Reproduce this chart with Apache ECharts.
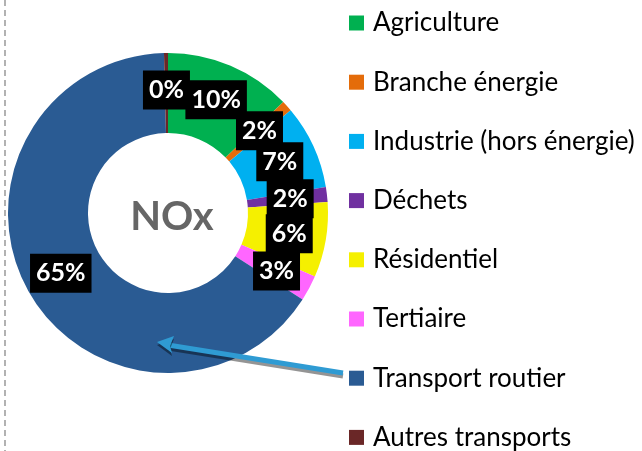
<!DOCTYPE html>
<html>
<head>
<meta charset="utf-8">
<script src="https://cdn.jsdelivr.net/npm/echarts@6/dist/echarts.min.js"></script>
<style>
  html, body { margin: 0; padding: 0; background: #fff; }
  #chart { width: 642px; height: 451px; }
</style>
</head>
<body>
<div id="chart"></div>
<script>
// secteurs (ordre de la légende)
var sectors = ['Agriculture', 'Branche énergie', 'Industrie (hors énergie)', 'Déchets',
  'Résidentiel', 'Tertiaire', 'Transport routier', 'Autres transports'];
// parts mesurées sur les angles du graphique
var shares = [12.8, 1.1, 8.5, 1.5, 7.6, 2.6, 65.5, 0.4];
// étiquettes affichées
var pctLabels = ['10%', '2%', '7%', '2%', '6%', '3%', '65%', '0%'];
var colors = ['#00b050', '#e46c0a', '#00b0f0', '#7030a0', '#f5f000', '#ff66ff', '#2a5b93', '#6a2727'];

var chart = echarts.init(document.getElementById('chart'));

var font = 'Lato, "Open Sans", sans-serif';
var arrowStyle = { shadowColor: 'rgba(0,0,0,0.42)', shadowOffsetX: 0, shadowOffsetY: 3, shadowBlur: 0 };

chart.setOption({
  animation: false,
  title: {
    text: 'NOx',
    left: 167, top: 212,
    textAlign: 'center', textVerticalAlign: 'middle',
    textStyle: { fontFamily: font, fontSize: 40, fontWeight: 'bold', color: '#666' }
  },
  legend: {
    orient: 'vertical',
    left: 344, top: 5, height: 446,
    itemWidth: 15, itemHeight: 15,
    itemGap: 33.2,
    icon: 'rect',
    textStyle: { fontFamily: font, fontSize: 26, color: '#000', lineHeight: 24, padding: [0, 0, 0, 4] },
    data: sectors
  },
  graphic: [
    {
      type: 'line', z: 100,
      shape: { x1: 5, y1: 0, x2: 5, y2: 451 },
      style: { stroke: '#999', lineWidth: 1.5, lineDash: [6, 4] }
    },
    {
      type: 'line', z: 100,
      shape: { x1: 343, y1: 373, x2: 168, y2: 345 },
      style: Object.assign({ stroke: '#2f9bd3', lineWidth: 5 }, arrowStyle)
    },
    {
      type: 'polygon', z: 100,
      shape: { points: [[157, 342], [174, 336], [170, 346], [172, 353]] },
      style: Object.assign({ fill: '#2f9bd3' }, arrowStyle)
    }
  ],
  series: [{
    type: 'pie',
    center: [168, 213],
    radius: [80, 160],
    startAngle: 90,
    clockwise: true,
    avoidLabelOverlap: false,
    minShowLabelAngle: 0,
    labelLayout: { hideOverlap: false },
    color: colors,
    itemStyle: { borderWidth: 0 },
    label: {
      show: true,
      position: 'inside',
      formatter: function (p) { return pctLabels[p.dataIndex]; },
      color: '#fff',
      backgroundColor: '#000',
      padding: [8, 6, 6, 6],
      fontFamily: font,
      fontSize: 25,
      fontWeight: 'bold'
    },
    labelLine: { show: false },
    emphasis: { disabled: true },
    data: sectors.map(function (s, i) { return { name: s, value: shares[i] }; })
  }]
});
</script>
</body>
</html>
